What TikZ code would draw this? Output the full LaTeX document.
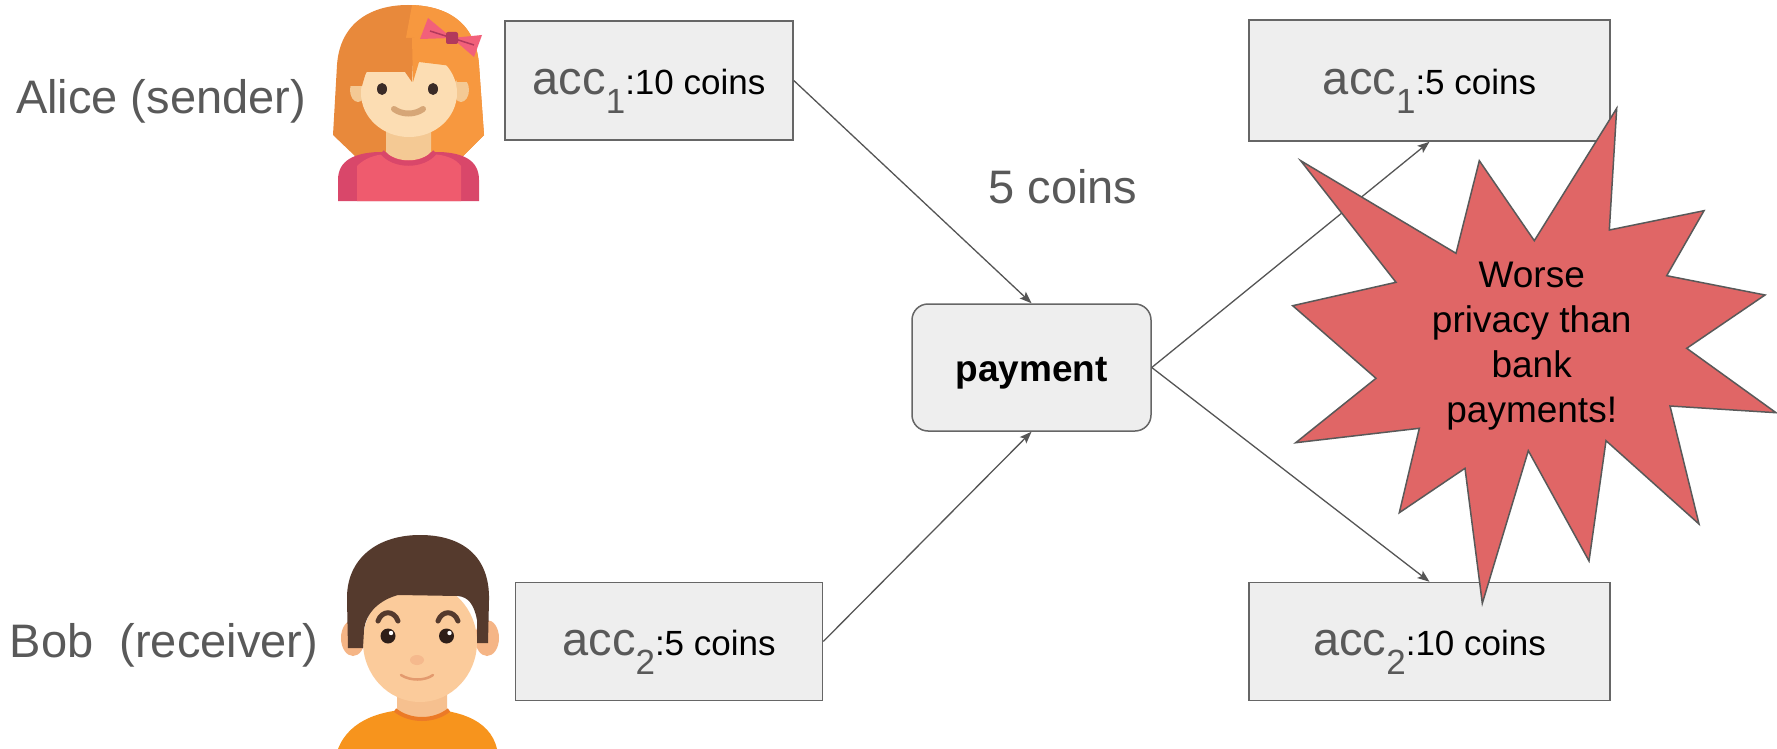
\documentclass[tikz,border=0pt]{standalone}
\usepackage{fontspec}
\setmainfont{Liberation Sans}
\usetikzlibrary{arrows.meta}

\definecolor{labelgray}{HTML}{595959}
\definecolor{boxfill}{HTML}{EEEEEE}
\definecolor{boxline}{HTML}{666666}
\definecolor{linegray}{HTML}{555555}
\definecolor{starred}{HTML}{E06666}
% Alice
\definecolor{hairdark}{HTML}{E8893B}
\definecolor{hairlight}{HTML}{F7983F}
\definecolor{skinface}{HTML}{FCDDB3}
\definecolor{skinneck}{HTML}{F4C994}
\definecolor{eyedark}{HTML}{3A2B27}
\definecolor{smiletan}{HTML}{D6A677}
\definecolor{shirtpink}{HTML}{EF5B6E}
\definecolor{shirtrose}{HTML}{D9476A}
\definecolor{bowpink}{HTML}{F2607A}
\definecolor{bowknot}{HTML}{B2395C}
% Bob
\definecolor{bobhair}{HTML}{553A2D}
\definecolor{bobskin}{HTML}{FBCB9B}
\definecolor{bobear}{HTML}{F5B586}
\definecolor{bobneck}{HTML}{F6C08F}
\definecolor{bobeye}{HTML}{2E1E18}
\definecolor{bobshirt}{HTML}{F7941D}
\definecolor{bobcollar}{HTML}{EC7A26}
\definecolor{bobnose}{HTML}{F5B98D}
\definecolor{bobmouth}{HTML}{E39A6E}

% account label: grey "acc" with a lowered index, then the balance in black
\newcommand{\acclabel}[2]{{\color{labelgray}\fontsize{47}{56}\selectfont acc\fontsize{35}{42}\selectfont\raisebox{-19pt}{#1}}\fontsize{35}{42}\selectfont:#2 coins}

\begin{document}
\begin{tikzpicture}[x=1pt, y=-1pt,
  acct/.style={draw=boxline, line width=1.5pt, fill=boxfill, inner sep=0pt,
               text height=33pt, text depth=5pt},
  paybox/.style={acct, rounded corners=16pt,
                 font=\fontsize{37}{44}\selectfont\bfseries},
  person/.style={text=labelgray, font=\fontsize{47}{56}\selectfont,
                 anchor=base, inner sep=0pt},
  starline/.style={font=\fontsize{37}{44}\selectfont, anchor=base, inner sep=0pt},
  conn/.style={draw=linegray, line width=1.3pt,
               -{Stealth[length=12pt, width=9pt, inset=2.5pt]}},
  burst/.style={fill=starred, draw=labelgray, line width=1.5pt, line join=miter}
]
\useasboundingbox (0,0) rectangle (1777,749);
\fill[white] (0,0) rectangle (1777,749);

% ---------- people labels ----------
\node[person] (alicelbl) at (161,114) {Alice (sender)};
\node[person] (boblbl) at (164,657) {Bob\ \ (receiver)};

% ---------- Alice avatar ----------
\fill[hairdark] (333,135) -- (337,65) .. controls (340,22) and (372,5) .. (408,5)
  .. controls (446,5) and (476,22) .. (479,65) -- (484,135) -- (462,157) -- (356,157) -- cycle;
\begin{scope}
  \clip (333,135) -- (337,65) .. controls (340,22) and (372,5) .. (408,5)
    .. controls (446,5) and (476,22) .. (479,65) -- (484,135) -- (462,157) -- (356,157) -- cycle;
  \fill[hairlight] (413,0) -- (495,0) -- (495,160) -- (406,160) -- (400,70) -- cycle;
\end{scope}
% shirt
\fill[shirtrose] (338,201) -- (338,180) .. controls (338,160) and (355,153) .. (378,152)
  -- (440,152) .. controls (463,153) and (479,160) .. (479,180) -- (479,201) -- cycle;
\fill[shirtpink] (357,201) -- (357,166) .. controls (365,158) and (375,155) .. (385,154)
  -- (432,154) .. controls (445,155) and (455,158) .. (461,166) -- (461,201) -- cycle;
% neck and collar
\fill[skinneck] (386,118) -- (386,152) .. controls (396,163) and (421,163) .. (431,152) -- (431,118) -- cycle;
\draw[shirtrose, line width=5pt] (382,152) .. controls (394,167) and (423,167) .. (435,152);
% ears and face
\fill[skinneck] (358,90) ellipse [x radius=8, y radius=12];
\fill[skinneck] (461,90) ellipse [x radius=8, y radius=12];
\fill[skinface] (409,93) ellipse [x radius=48, y radius=44];
% fringe
\fill[hairdark] (350,38) -- (350,86) -- (362,86) -- (366,72) -- (405,72) -- (412,82) -- (414,38) -- cycle;
\fill[hairlight] (412,38) -- (413,82) -- (419,62) -- (452,66) -- (457,82) -- (468,82) -- (468,38) -- cycle;
% eyes and smile
\fill[eyedark] (382,89) ellipse [x radius=5, y radius=6];
\fill[eyedark] (433,89) ellipse [x radius=5, y radius=6];
\draw[smiletan, line width=6pt, line cap=round] (394,109) .. controls (402,115) and (415,115) .. (423,109);
% bow
\fill[bowpink] (428,18) -- (420,39) -- (452,38) -- cycle;
\fill[bowpink] (452,38) -- (482,35) -- (474,57) -- cycle;
\draw[bowknot, line width=1.5pt] (430,31) -- (474,45);
\fill[bowknot, rounded corners=2pt] (446,32) rectangle (458,44);

% ---------- Bob avatar ----------
\fill[bobshirt] (338,749) .. controls (350,718) and (385,709) .. (420,709)
  .. controls (455,709) and (490,718) .. (497,749) -- cycle;
\fill[bobneck] (397,688) -- (397,711) .. controls (410,721) and (434,721) .. (447,711) -- (447,688) -- cycle;
\draw[bobcollar, line width=4pt] (395,710) .. controls (410,722) and (434,722) .. (449,710);
\fill[bobear] (353,638) ellipse [x radius=12, y radius=18];
\fill[bobear] (487,638) ellipse [x radius=12, y radius=18];
\fill[bobskin] (420,642) ellipse [x radius=57, y radius=60];
\fill[bobhair] (348,648) -- (347,600) .. controls (346,558) and (378,535) .. (420,535)
  .. controls (462,535) and (490,556) .. (489,600) -- (488,643) -- (477,643) -- (477,620)
  .. controls (474,604) and (468,597) .. (458,596) -- (398,595)
  .. controls (380,600) and (366,612) .. (364,630) -- (363,648) -- cycle;
\draw[bobhair, line width=5pt, line cap=round] (378,621) .. controls (382,610) and (394,610) .. (398,621);
\draw[bobhair, line width=5pt, line cap=round] (438,621) .. controls (442,610) and (454,610) .. (458,621);
\fill[bobeye] (388,636) circle (7.5);
\fill[bobeye] (446.5,636) circle (7.5);
\fill[white] (391,633) circle (2.2);
\fill[white] (449.5,633) circle (2.2);
\fill[bobnose] (417,660) ellipse [x radius=7, y radius=5];
\draw[bobmouth, line width=2.5pt, line cap=round] (401,675) .. controls (410,681) and (425,681) .. (433,675);

% ---------- accounts and payment ----------
\node[acct, minimum width=288pt, minimum height=119pt] (a1) at (649,80.5) {\acclabel{1}{10}};
\node[acct, minimum width=307pt, minimum height=118pt] (b1) at (669,641.5) {\acclabel{2}{5}};
\node[paybox, minimum width=239pt, minimum height=127pt] (pay) at (1031.5,367.5) {payment};
\node[acct, minimum width=361pt, minimum height=121pt] (r1) at (1429.5,80.5) {\acclabel{1}{5}};
\node[acct, minimum width=361pt, minimum height=118pt] (r2) at (1429.5,641.5) {\acclabel{2}{10}};

\node[person] (amount) at (1063,203) {5 coins};

\draw[conn] (a1.east) -- (pay.north);
\draw[conn] (b1.east) -- (pay.south);
\draw[conn] (pay.east) -- (r1.south);
\draw[conn] (pay.east) -- (r2.north);

% ---------- warning burst ----------
\filldraw[burst] (1300.7,160.7) -- (1456,253.3) -- (1479.3,160.7) -- (1534.3,240.7)
  -- (1616.7,108.3) -- (1609.3,230) -- (1704,210.7) -- (1666.7,275.7)
  -- (1765,295) -- (1686.7,348.3) -- (1776,412.7) -- (1670,406)
  -- (1699,524) -- (1606,440.7) -- (1589,561) -- (1528.3,450.7)
  -- (1482.3,603.3) -- (1465,468.3) -- (1399.3,512.7) -- (1419.3,428.3)
  -- (1295.7,442.7) -- (1376,378.3) -- (1292.7,305.7) -- (1396,282.3) -- cycle;
\node[starline] (w1) at (1531.7,287) {Worse};
\node[starline] (w2) at (1531.7,332) {privacy than};
\node[starline] (w3) at (1531.7,377) {bank};
\node[starline] (w4) at (1531.7,422) {payments!};
\end{tikzpicture}
\end{document}
